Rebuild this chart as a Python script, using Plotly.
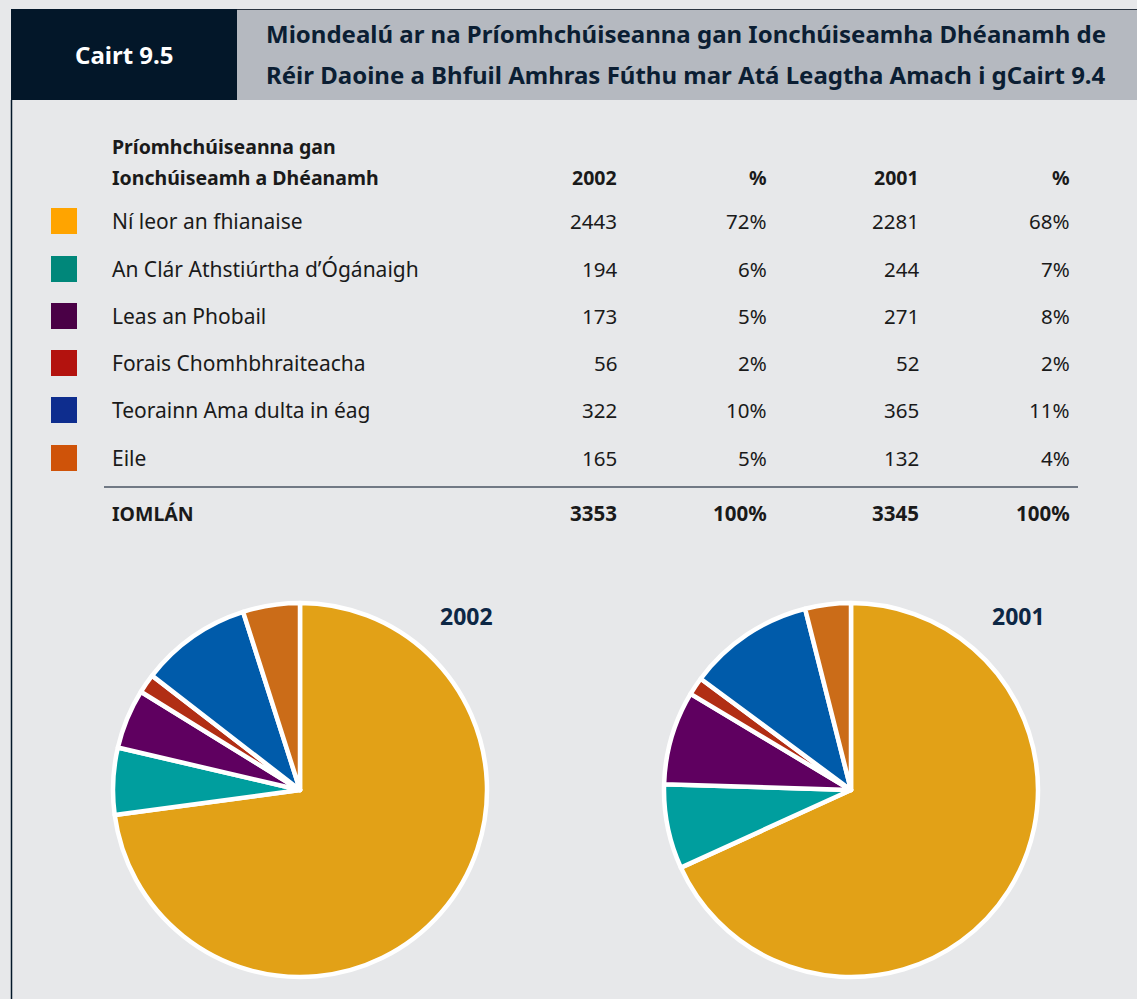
import plotly.graph_objects as go

W, H = 1137, 999

# ---- data ----
categories = [
    "Ní leor an fhianaise",
    "An Clár Athstiúrtha d\u2019Ógánaigh",
    "Leas an Phobail",
    "Forais Chomhbhraiteacha",
    "Teorainn Ama dulta in éag",
    "Eile",
]
counts_2002 = [2443, 194, 173, 56, 322, 165]
pct_2002 = ["72%", "6%", "5%", "2%", "10%", "5%"]
counts_2001 = [2281, 244, 271, 52, 365, 132]
pct_2001 = ["68%", "7%", "8%", "2%", "11%", "4%"]
total_2002, total_pct_2002 = 3353, "100%"
total_2001, total_pct_2001 = 3345, "100%"
column_headers = ["2002", "%", "2001", "%"]
table_title = ["Príomhchúiseanna gan", "Ionchúiseamh a Dhéanamh"]
total_label = "IOMLÁN"
chart_number = "Cairt 9.5"
title_lines = [
    "Miondealú ar na Príomhchúiseanna gan Ionchúiseamha Dhéanamh de",
    "Réir Daoine a Bhfuil Amhras Fúthu mar Atá Leagtha Amach i gCairt 9.4",
]

# ---- styles ----
legend_colors = ["#FFA400", "#00877A", "#4A0046", "#B3120E", "#0E2D8E", "#CF5309"]
pie_colors = ["#E2A117", "#009E9E", "#5F0060", "#B12E14", "#005BAA", "#CB6C18"]
BG = "#E7E8EA"
NAVY = "#031729"
TITLE_GREY = "#B5B9C0"
TEXT = "#1A1A1A"
FONT = "Noto Sans"


def px(x):
    return x / W


def py(y):
    return 1 - y / H


fig = go.Figure()

# pies
def pie_domain(cx, cy, r):
    return dict(x=[px(cx - r), px(cx + r)], y=[py(cy + r), py(cy - r)])


for vals, cx, name in [(counts_2002, 300, "2002"), (counts_2001, 851, "2001")]:
    fig.add_trace(go.Pie(
        labels=categories, values=vals, sort=False, direction="clockwise",
        rotation=0, textinfo="none", hoverinfo="label+value+percent",
        marker=dict(colors=pie_colors, line=dict(color="white", width=4.5)),
        domain=pie_domain(cx, 790, 187), showlegend=False, name=name,
    ))

shapes = []
annotations = []

# header boxes
shapes.append(dict(type="rect", xref="paper", yref="paper", x0=px(11), x1=px(237),
                   y0=py(100), y1=py(9), fillcolor=NAVY, line=dict(width=0), layer="below"))
shapes.append(dict(type="rect", xref="paper", yref="paper", x0=px(237), x1=px(W),
                   y0=py(100), y1=py(9), fillcolor=TITLE_GREY, line=dict(width=0), layer="below"))
shapes.append(dict(type="line", xref="paper", yref="paper", x0=px(237), x1=px(W),
                   y0=py(9.5), y1=py(9.5), line=dict(color="#2B3440", width=1.2), layer="below"))
# left border line
shapes.append(dict(type="line", xref="paper", yref="paper", x0=px(11.5), x1=px(11.5),
                   y0=py(100), y1=py(H), line=dict(color=NAVY, width=1.5), layer="below"))

annotations.append(dict(text="<b>%s</b>" % chart_number, x=px(124), y=py(54), xref="paper", yref="paper",
                        showarrow=False, xanchor="center", yanchor="middle",
                        font=dict(family=FONT, size=24, color="white")))
for i, line in enumerate(title_lines):
    annotations.append(dict(text="<b>%s</b>" % line, x=px(264), y=py(33 + i * 41), xref="paper", yref="paper",
                            showarrow=False, xanchor="left", yanchor="middle",
                            font=dict(family=FONT, size=24, color="#0B1E33")))

# table header
for i, line in enumerate(table_title):
    annotations.append(dict(text="<b>%s</b>" % line, x=px(110), y=py(146 + i * 31), xref="paper", yref="paper",
                            showarrow=False, xanchor="left", yanchor="middle",
                            font=dict(family=FONT, size=19.5, color=TEXT)))
col_x = [619, 769, 921, 1072]
for cx, h in zip(col_x, column_headers):
    annotations.append(dict(text="<b>%s</b>" % h, x=px(cx), y=py(177), xref="paper", yref="paper",
                            showarrow=False, xanchor="right", yanchor="middle",
                            font=dict(family=FONT, size=19.5, color=TEXT)))

row_y = [221, 269, 316, 363, 410, 458]
for i, cat in enumerate(categories):
    y = row_y[i]
    shapes.append(dict(type="rect", xref="paper", yref="paper", x0=px(51), x1=px(77),
                       y0=py(y + 13), y1=py(y - 13), fillcolor=legend_colors[i], line=dict(width=0)))
    annotations.append(dict(text=cat, x=px(110), y=py(y), xref="paper", yref="paper",
                            showarrow=False, xanchor="left", yanchor="middle",
                            font=dict(family=FONT, size=21, color=TEXT)))
    for cx, v in zip(col_x, [counts_2002[i], pct_2002[i], counts_2001[i], pct_2001[i]]):
        annotations.append(dict(text=str(v), x=px(cx), y=py(y), xref="paper", yref="paper",
                                showarrow=False, xanchor="right", yanchor="middle",
                                font=dict(family=FONT, size=20.5, color=TEXT)))

shapes.append(dict(type="line", xref="paper", yref="paper", x0=px(104), x1=px(1078),
                   y0=py(487), y1=py(487), line=dict(color="#4A5563", width=1.5)))
annotations.append(dict(text="<b>%s</b>" % total_label, x=px(110), y=py(513), xref="paper", yref="paper",
                        showarrow=False, xanchor="left", yanchor="middle",
                        font=dict(family=FONT, size=19.5, color=TEXT)))
for cx, v in zip(col_x, [total_2002, total_pct_2002, total_2001, total_pct_2001]):
    annotations.append(dict(text="<b>%s</b>" % v, x=px(cx), y=py(513), xref="paper", yref="paper",
                            showarrow=False, xanchor="right", yanchor="middle",
                            font=dict(family=FONT, size=20.5, color=TEXT)))

# pie year labels
for cx, lab in [(466, "2002"), (1018, "2001")]:
    annotations.append(dict(text="<b>%s</b>" % lab, x=px(cx), y=py(616), xref="paper", yref="paper",
                            showarrow=False, xanchor="center", yanchor="middle",
                            font=dict(family=FONT, size=23, color="#0D2745")))

fig.update_layout(
    width=W, height=H, margin=dict(l=0, r=0, t=0, b=0),
    paper_bgcolor=BG, plot_bgcolor=BG,
    shapes=shapes, annotations=annotations, showlegend=False,
)

fig.write_html("out.html", config={"displayModeBar": False},
               post_script="document.body.style.margin='0';document.body.style.background='%s';" % BG)
